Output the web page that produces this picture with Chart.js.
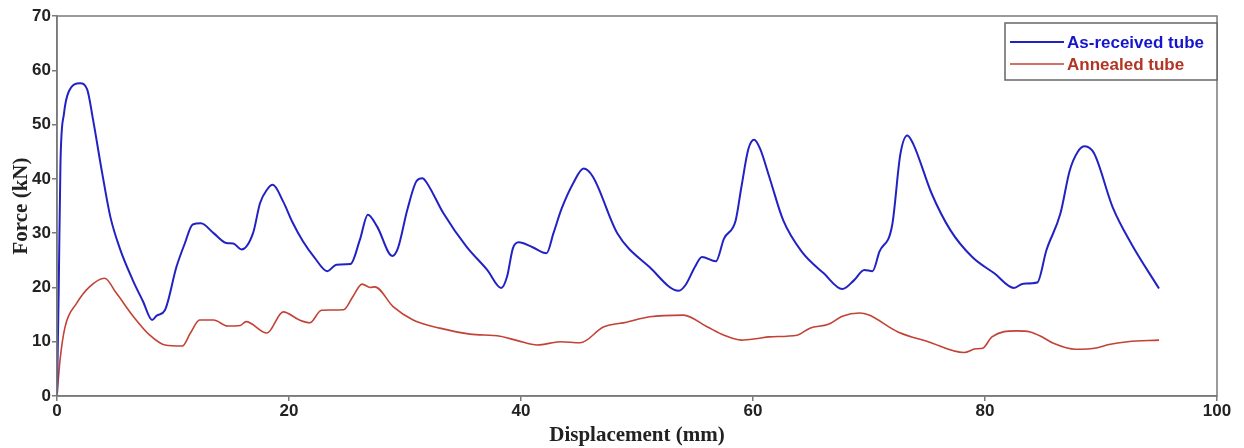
<!DOCTYPE html>
<html>
<head>
<meta charset="utf-8">
<script src="https://cdn.jsdelivr.net/npm/chart.js@4"></script>
<style>
  html, body { margin: 0; padding: 0; background: #fff; }
  #wrap { width: 1244px; height: 448px; }
</style>
</head>
<body>
<div id="wrap"><canvas id="forceChart"></canvas></div>
<script>
// axis ticks
const xTicks = [0, 20, 40, 60, 80, 100];
const yTicks = [0, 10, 20, 30, 40, 50, 60, 70];

// As-received tube: displacement (mm) / force (kN)
const asReceivedX = [0, 0.15, 0.3, 0.6, 1.0, 2.0, 2.6, 3.1, 3.9, 4.6, 5.4, 6.5, 7.4, 8.2, 8.6, 9.3,
  10.3, 11.0, 11.7, 12.4, 13.5, 14.6, 15.2, 15.9, 16.9, 17.5, 18.1, 18.6, 19.5, 20.3, 21.2, 22.2,
  23.3, 24.1, 25.3, 26.1, 26.8, 27.6, 28.9, 29.4, 30.2, 31.0, 31.5, 31.9, 33.3, 35.3, 37.1, 38.3,
  38.8, 39.3, 39.8, 41.0, 42.2, 42.8, 43.5, 44.5, 45.4, 46.2, 48.3, 51.1, 53.6, 54.2, 55.0, 55.6,
  56.8, 57.5, 58.5, 59.0, 59.6, 60.1, 60.6, 61.4, 62.6, 64.2, 66.1, 67.7, 68.7, 69.6, 70.3, 70.9,
  72.0, 72.7, 73.3, 73.8, 75.4, 77.0, 78.9, 80.8, 82.5, 83.3, 84.5, 85.3, 86.5, 87.3, 88.0, 88.6,
  89.4, 91.0, 92.6, 95.0];
const asReceivedY = [0, 20, 43, 52, 56, 57.6, 56.5, 51, 41, 33, 27.3, 21.5, 17.5, 14.0, 14.8, 15.8,
  23.8, 28, 31.6, 31.8, 30.0, 28.2, 28.1, 27.0, 30.0, 35.5, 38, 38.9, 35.8, 32, 28.5, 25.5,
  23.0, 24.2, 24.3, 28.7, 33.4, 31.2, 25.8, 27.3, 34.3, 39.6, 40.1, 39.2, 33.7, 27.5, 23.2, 19.9,
  22.0, 27.2, 28.3, 27.4, 26.3, 30.0, 34.5, 39.2, 41.9, 40.4, 30.0, 23.7, 19.4, 20.5, 23.8, 25.6,
  24.8, 29.0, 32.3, 38.5, 45.5, 47.2, 45.6, 40.4, 32.4, 26.6, 22.6, 19.7, 21.3, 23.2, 23.0, 26.6,
  31.5, 44.5, 48.0, 46.5, 37.3, 30.6, 25.6, 22.6, 19.9, 20.7, 20.9, 26.9, 33.6, 41.5, 45.0, 46.0,
  44.7, 34.8, 28.1, 19.8];

// Annealed tube
const annealedX = [0, 0.26, 0.69, 1.7, 2.8, 4.1, 5.1, 6.6, 8.0, 9.3, 10.8, 11.5, 12.3, 13.5, 14.7,
  15.8, 16.3, 18.1, 19.5, 20.9, 21.8, 22.8, 24.7, 25.5, 26.3, 27.0, 27.4, 29.0, 30.7, 33.0, 35.6,
  38.2, 39.7, 41.4, 43.4, 45.1, 47.1, 49.1, 51.1, 54.0, 56.0, 57.5, 59.0, 60.4, 61.4, 63.8, 64.9,
  66.5, 67.7, 69.2, 70.0, 72.5, 75.1, 78.2, 79.2, 79.8, 80.6, 82.7, 83.9, 84.9, 85.9, 87.8, 89.7,
  90.7, 92.3, 95.0];
const annealedY = [0, 6.6, 12.7, 17.1, 20.1, 21.7, 19.0, 14.6, 11.2, 9.4, 9.2, 11.6, 14.0, 14.0, 12.9,
  13.0, 13.7, 11.6, 15.5, 14.0, 13.5, 15.8, 15.9, 18.3, 20.6, 20.0, 20.1, 16.4, 14.0, 12.5, 11.4,
  11.0, 10.2, 9.4, 10.0, 9.8, 12.7, 13.6, 14.6, 14.9, 12.8, 11.2, 10.3, 10.6, 10.9, 11.2, 12.5,
  13.2, 14.7, 15.3, 14.9, 11.8, 10.0, 8.0, 8.7, 8.8, 10.9, 12.0, 11.8, 10.9, 9.7, 8.6, 8.9,
  9.5, 10.0, 10.3];

const colors = {
  blue: '#2222c4',
  blueText: '#1515cc',
  red: '#c24236',
  redText: '#b33422',
  frame: '#7a7a7a',
  text: '#222222'
};

function toPoints(xs, ys) {
  return xs.map((x, i) => ({ x: x, y: ys[i] }));
}

// full box round the plot area
const frameBox = {
  id: 'frameBox',
  afterDraw(chart) {
    const { ctx, chartArea: a } = chart;
    ctx.save();
    ctx.strokeStyle = colors.frame;
    ctx.lineWidth = 1.5;
    ctx.strokeRect(a.left, a.top, a.right - a.left, a.bottom - a.top);
    ctx.restore();
  }
};

// legend box in the top right corner
const boxLegend = {
  id: 'boxLegend',
  afterDraw(chart) {
    const { ctx, chartArea: a } = chart;
    const x0 = a.right - 212, y0 = a.top + 7, w = 212, h = 57;
    ctx.save();
    ctx.fillStyle = '#fff';
    ctx.fillRect(x0, y0, w, h);
    ctx.strokeStyle = '#666';
    ctx.lineWidth = 1.5;
    ctx.strokeRect(x0, y0, w, h);
    ctx.font = 'bold 17px "Liberation Sans", Arial, sans-serif';
    ctx.textBaseline = 'middle';
    const textColors = [colors.blueText, colors.redText];
    chart.data.datasets.forEach((ds, i) => {
      const yy = y0 + 19 + i * 22;
      ctx.strokeStyle = ds.borderColor;
      ctx.lineWidth = ds.borderWidth;
      ctx.beginPath();
      ctx.moveTo(x0 + 5, yy);
      ctx.lineTo(x0 + 59, yy);
      ctx.stroke();
      ctx.fillStyle = textColors[i];
      ctx.fillText(ds.label, x0 + 62, yy + 1);
    });
    ctx.restore();
  }
};

const tickFont = { family: '"Liberation Sans", Arial, sans-serif', size: 17, weight: 'bold' };
const titleFont = { family: '"Liberation Serif", "Times New Roman", serif', size: 21, weight: 'bold' };

new Chart(document.getElementById('forceChart').getContext('2d'), {
  type: 'scatter',
  data: {
    datasets: [
      {
        label: 'As-received tube',
        data: toPoints(asReceivedX, asReceivedY),
        showLine: true,
        borderColor: colors.blue,
        backgroundColor: colors.blue,
        borderWidth: 2,
        pointRadius: 0,
        cubicInterpolationMode: 'monotone'
      },
      {
        label: 'Annealed tube',
        data: toPoints(annealedX, annealedY),
        showLine: true,
        borderColor: colors.red,
        backgroundColor: colors.red,
        borderWidth: 1.6,
        pointRadius: 0,
        cubicInterpolationMode: 'monotone'
      }
    ]
  },
  options: {
    responsive: true,
    maintainAspectRatio: false,
    animation: false,
    layout: { padding: { top: 16, right: 27, bottom: 0, left: 0 } },
    plugins: {
      legend: { display: false },
      tooltip: { enabled: false }
    },
    scales: {
      x: {
        type: 'linear',
        min: 0,
        max: 100,
        afterBuildTicks: s => { s.ticks = xTicks.map(v => ({ value: v })); },
        afterFit: s => { s.height = 52; },
        grid: { drawOnChartArea: false, tickLength: 5, color: colors.frame, lineWidth: 1.5 },
        border: { color: colors.frame, width: 1.5 },
        ticks: { color: colors.text, font: tickFont, padding: 0, maxRotation: 0 },
        title: { display: true, text: 'Displacement (mm)', color: colors.text, font: titleFont, padding: { top: 2, bottom: 0 } }
      },
      y: {
        min: 0,
        max: 70,
        afterBuildTicks: s => { s.ticks = yTicks.map(v => ({ value: v })); },
        afterFit: s => { s.width = 57; },
        grid: { drawOnChartArea: false, tickLength: 5, color: colors.frame, lineWidth: 1.5 },
        border: { color: colors.frame, width: 1.5 },
        ticks: { color: colors.text, font: tickFont, padding: 1 },
        title: { display: true, text: 'Force (kN)', color: colors.text, font: titleFont, padding: { top: 9, bottom: 0 } }
      }
    }
  },
  plugins: [frameBox, boxLegend]
});
</script>
</body>
</html>
